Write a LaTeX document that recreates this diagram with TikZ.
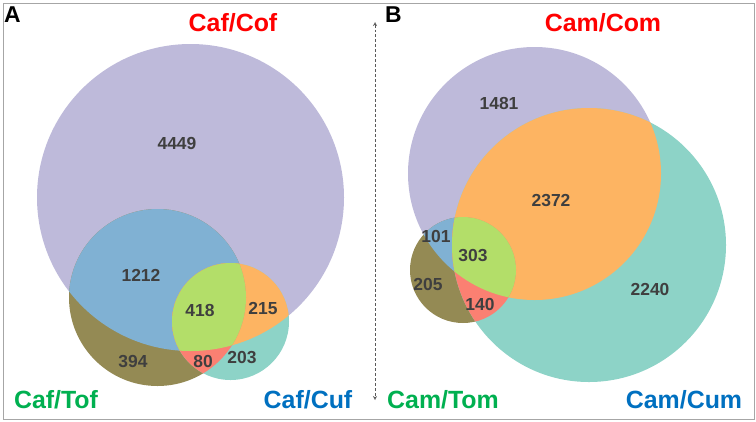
\documentclass[tikz,border=0pt]{standalone}
\usepackage{fontspec}
\setmainfont{Liberation Sans}
\usepackage{tikz}
\usetikzlibrary{arrows.meta}
\definecolor{Lav}{HTML}{BEBADA}
\definecolor{Sky}{HTML}{80B1D3}
\definecolor{Olive}{HTML}{948A54}
\definecolor{Mint}{HTML}{8DD3C7}
\definecolor{Peach}{HTML}{FDB462}
\definecolor{Lime}{HTML}{B3DE69}
\definecolor{Salmon}{HTML}{FB8072}
\definecolor{Num}{HTML}{3F3F3F}
\definecolor{LabRed}{HTML}{FF0000}
\definecolor{LabGreen}{HTML}{00B050}
\definecolor{LabBlue}{HTML}{0070C0}
\definecolor{Frame}{HTML}{A6A6A6}
\tikzset{
 count/.style={font=\bfseries\fontsize{17.5}{18}\selectfont,text=Num,inner sep=0pt},
 setlabel/.style={font=\bfseries\fontsize{25}{26}\selectfont,anchor=base,inner sep=0pt},
 panel/.style={font=\bfseries\fontsize{23}{24}\selectfont,anchor=north west,inner sep=0pt},
 frame/.style={draw=Frame,line width=0.8pt},
 sep/.style={densely dashed,draw=gray!70!black,line width=0.5pt,
   {Stealth[length=4pt,width=4pt,open]}-{Stealth[length=4pt,width=4pt,open]}}
}
% circles of panel A and panel B
\newcommand{\CofCirc}{(190.5,197.5) circle[radius=153.5]}
\newcommand{\TofCirc}{(157.5,297.5) circle[radius=88.5]}
\newcommand{\CufCirc}{(230.5,321.5) circle[radius=58.5]}
\newcommand{\ComCirc}{(534.5,173.5) circle[radius=126.5]}
\newcommand{\TomCirc}{(463,270) circle[radius=53]}
\newcommand{\CumCirc}{(589,245) circle[radius=137]}
\begin{document}
\begin{tikzpicture}[x=1bp,y=-1bp]
\useasboundingbox (0,0) rectangle (756,421);
\draw[frame] (3,3) rectangle (754,419);
% panel A
\fill[Lav] \CofCirc;
\fill[Olive] \TofCirc;
\fill[Mint] \CufCirc;
\begin{scope}
 \clip \CofCirc;
 \fill[Sky] \TofCirc;
 \fill[Peach] \CufCirc;
\end{scope}
\begin{scope}
 \clip \TofCirc;
 \fill[Salmon] \CufCirc;
 \clip \CofCirc;
 \fill[Lime] \CufCirc;
\end{scope}
% panel B
\fill[Lav] \ComCirc;
\fill[Olive] \TomCirc;
\fill[Mint] \CumCirc;
\begin{scope}
 \clip \ComCirc;
 \fill[Sky] \TomCirc;
 \fill[Peach] \CumCirc;
\end{scope}
\begin{scope}
 \clip \TomCirc;
 \fill[Salmon] \CumCirc;
 \clip \ComCirc;
 \fill[Lime] \CumCirc;
\end{scope}
% counts A
\node[count] (a1) at (177,143) {4449};
\node[count] (a2) at (141,275) {1212};
\node[count] (a3) at (200,310) {418};
\node[count] (a4) at (263,308) {215};
\node[count] (a5) at (133,362) {394};
\node[count] (a6) at (203,361) {80};
\node[count] (a7) at (242,358) {203};
% counts B
\node[count] (b1) at (499,103) {1481};
\node[count] (b2) at (551,201) {2372};
\node[count] (b3) at (436,236) {101};
\node[count] (b4) at (473,256) {303};
\node[count] (b5) at (428,284) {205};
\node[count] (b6) at (480,304) {140};
\node[count] (b7) at (650,289) {2240};
% labels
\node[panel] (pA) at (4,7) {A};
\node[panel] (pB) at (385,7) {B};
\node[setlabel,text=LabRed] (cof) at (233,31) {Caf/Cof};
\node[setlabel,text=LabGreen] (tof) at (56,408) {Caf/Tof};
\node[setlabel,text=LabBlue] (cuf) at (308,408) {Caf/Cuf};
\node[setlabel,text=LabRed] (com) at (603,31) {Cam/Com};
\node[setlabel,text=LabGreen] (tom) at (443,408) {Cam/Tom};
\node[setlabel,text=LabBlue] (cum) at (684,408) {Cam/Cum};
% separator
\coordinate (top) at (375,22);
\coordinate (bot) at (375,400);
\draw[sep] (top) -- (bot);
\end{tikzpicture}
\end{document}
